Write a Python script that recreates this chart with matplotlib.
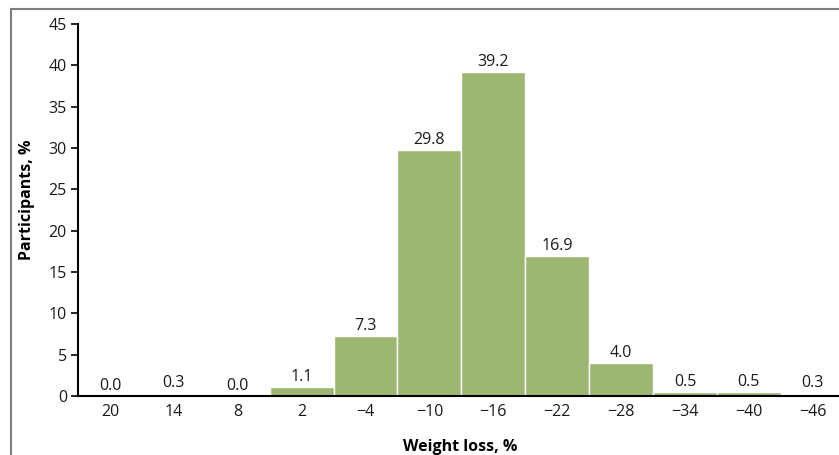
import numpy as np
import matplotlib
matplotlib.use('Agg')
import matplotlib.pyplot as plt
from matplotlib.patches import Rectangle

# datos
categorias = ['20', '14', '8', '2', '\u22124', '\u221210', '\u221216',
              '\u221222', '\u221228', '\u221234', '\u221240', '\u221246']
participantes = [0.0, 0.3, 0.0, 1.1, 7.3, 29.8, 39.2, 16.9, 4.0, 0.5, 0.5, 0.3]

plt.rcParams['font.family'] = ['Open Sans', 'DejaVu Sans']
fs = 11.5

W, H = 839, 455
fig = plt.figure(figsize=(W / 100, H / 100), dpi=100)

# marco gris alrededor de la figura
fig.patches.append(Rectangle((11 / W, -0.1), 1.2, 1 - 9 / H + 0.1,
                             transform=fig.transFigure, fill=False,
                             edgecolor='#7f7f7f', linewidth=1.5))

ax = fig.add_axes([78 / W, 1 - 396 / H, 1 - 78 / W, (396 - 24) / H])
x = np.arange(len(categorias))
bars = ax.bar(x, participantes, width=1.0, color='#9db672',
              edgecolor='white', linewidth=1.0)

for xi, v in zip(x, participantes):
    ax.text(xi, v + 0.25, f'{v:.1f}', ha='center', va='bottom', fontsize=fs,
            color='#1a1a1a')

ax.set_xlim(-0.5, 11.41)
ax.set_ylim(0, 45)
ax.set_yticks(np.arange(0, 46, 5))
ax.set_xticks(x)
ax.set_xticklabels(categorias)
ax.tick_params(axis='x', length=0, pad=6, labelsize=fs)
ax.tick_params(axis='y', length=5, width=1.2, pad=3, labelsize=fs)
ax.tick_params(axis='both', labelcolor='#1a1a1a')

for s in ['top', 'right']:
    ax.spines[s].set_visible(False)
ax.spines['left'].set_linewidth(1.5)
ax.spines['bottom'].set_linewidth(1.5)

fig.text(460 / W, 1 - 447 / H, 'Weight loss, %', ha='center', va='center',
         fontsize=fs, fontweight='bold')
fig.text(27 / W, 1 - 200 / H, 'Participants, %', ha='center', va='center',
         rotation=90, fontsize=fs, fontweight='bold')

fig.savefig('out.png', dpi=100)
